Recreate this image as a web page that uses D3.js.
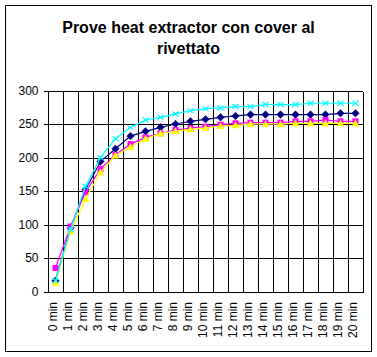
<!DOCTYPE html>
<html>
<head>
<meta charset="utf-8">
<script src="https://cdn.jsdelivr.net/npm/d3@7"></script>
<style>
  html, body { margin: 0; padding: 0; background: #fff; }
  svg { display: block; }
  text { font-family: "Liberation Sans", Arial, sans-serif; fill: #000; }
</style>
</head>
<body>
<svg id="chart" width="377" height="357"></svg>
<script>
const titleLines = ["Prove heat extractor con cover al", "rivettato"];
const categories = ["0 min","1 min","2 min","3 min","4 min","5 min","6 min","7 min","8 min","9 min","10 min",
  "11 min","12 min","13 min","14 min","15 min","16 min","17 min","18 min","19 min","20 min"];
const seriesNavy    = [16, 95, 152, 194, 213, 232, 239, 245, 250, 254, 257, 260, 262, 264, 264, 264, 264, 264, 264, 266, 266];
const seriesMagenta = [35, 97, 148, 183, 204, 220, 230, 236, 241, 244, 246, 249, 251, 252, 252, 252, 254, 254, 256, 254, 254];
const seriesYellow  = [13, 90, 138, 178, 203, 216, 228, 236, 239, 242, 244, 247, 248, 250, 250, 250, 251, 251, 251, 251, 251];
const seriesCyan    = [16, 93, 157, 200, 228, 245, 256, 260, 265, 270, 273, 274, 276, 276, 279, 279, 279, 281, 281, 281, 281];
const yTicks = [0, 50, 100, 150, 200, 250, 300];

const series = [
  { values: seriesNavy,    color: "#000080", marker: "diamond" },
  { values: seriesMagenta, color: "#FF00FF", marker: "square" },
  { values: seriesYellow,  color: "#FFFF00", marker: "triangle" },
  { values: seriesCyan,    color: "#00FFFF", marker: "x" }
];

const svg = d3.select("#chart");

// outer chart border
svg.append("rect").attr("x", 5.5).attr("y", 5.5).attr("width", 366).attr("height", 346)
  .attr("fill", "#fff").attr("stroke", "#000").attr("stroke-width", 1);

// title
const title = svg.append("text").attr("text-anchor", "middle")
  .style("font-size", "16px").style("font-weight", "bold");
titleLines.forEach((t, i) => {
  title.append("tspan").attr("x", 188.5).attr("y", 33 + i * 20.5).text(t);
});

const x = d3.scaleBand().domain(categories).range([48, 363]).padding(0);
const y = d3.scaleLinear().domain([0, 300]).range([291.5, 90.5]);

const g = svg.append("g");

// horizontal gridlines
g.selectAll("line.hg").data(yTicks).enter().append("line")
  .attr("x1", 48).attr("x2", 363)
  .attr("y1", d => Math.round(y(d)) + 0.5).attr("y2", d => Math.round(y(d)) + 0.5)
  .attr("stroke", "#000").attr("stroke-width", 1).attr("shape-rendering", "crispEdges");

// vertical gridlines at category boundaries
const bounds = categories.map(c => x(c)).concat([x(categories[categories.length - 1]) + x.bandwidth()]);
g.selectAll("line.vg").data(bounds).enter().append("line")
  .attr("x1", d => Math.round(d) + 0.5).attr("x2", d => Math.round(d) + 0.5)
  .attr("y1", Math.round(y(300)) + 0.5).attr("y2", Math.round(y(0)) + 0.5)
  .attr("stroke", "#000").attr("stroke-width", 1).attr("shape-rendering", "crispEdges");

// y axis
const yAxis = d3.axisLeft(y).tickValues(yTicks).tickSize(5).tickPadding(5);
const ya = svg.append("g").attr("transform", "translate(48.5,0)").call(yAxis);
ya.select(".domain").remove();
ya.selectAll(".tick line").attr("stroke", "#000").attr("shape-rendering", "crispEdges");
ya.selectAll(".tick text").style("font-size", "12px").attr("font-family", null);

// x labels (rotated)
const xl = svg.append("g");
xl.selectAll("text").data(categories).enter().append("text")
  .attr("transform", d => `translate(${x(d) + x.bandwidth() / 2},302) rotate(-90)`)
  .attr("text-anchor", "end").attr("dy", "0.1em")
  .style("font-size", "12px").text(d => d);

// series
const cx = i => x(categories[i]) + x.bandwidth() / 2;
const line = d3.line().x((d, i) => cx(i)).y(d => y(d));

series.forEach(s => {
  const sg = svg.append("g");
  sg.append("path").datum(s.values).attr("d", line)
    .attr("fill", "none").attr("stroke", s.color).attr("stroke-width", 1.2);
  const pts = sg.selectAll("g.pt").data(s.values).enter().append("g")
    .attr("transform", (d, i) => `translate(${cx(i)},${y(d)})`);
  if (s.marker === "diamond") {
    pts.append("path").attr("d", "M0,-3.8L3.8,0L0,3.8L-3.8,0Z").attr("fill", s.color).attr("stroke", s.color).attr("stroke-width", 0.5);
  } else if (s.marker === "square") {
    pts.append("rect").attr("x", -3).attr("y", -3).attr("width", 6).attr("height", 6).attr("fill", s.color);
  } else if (s.marker === "triangle") {
    pts.append("path").attr("d", "M0,-3.8L3.8,3L-3.8,3Z").attr("fill", s.color);
  } else if (s.marker === "x") {
    pts.append("path").attr("d", "M-3,-2.5L3,2.5M-3,2.5L3,-2.5").attr("fill", "none")
      .attr("stroke", s.color).attr("stroke-width", 1.2);
  }
});
</script>
</body>
</html>
